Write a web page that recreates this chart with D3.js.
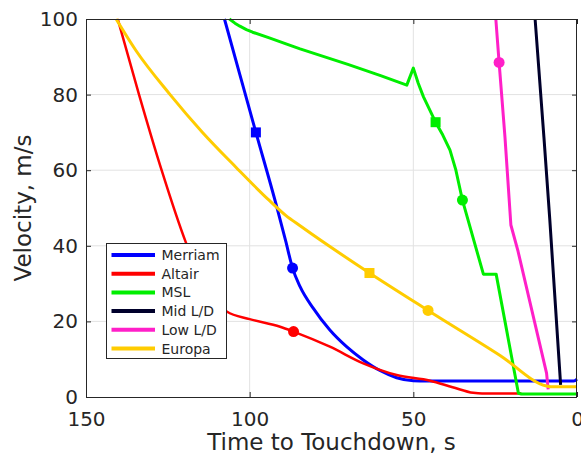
<html>
<head>
    <style>
        body { margin: 0; background-color: white; }
        svg { display: block; font-family: "DejaVu Sans", sans-serif; }
    </style>
</head>
<body>
    <div id="chart"></div>
    <script src="https://cdn.jsdelivr.net/npm/d3@7"></script>
    <script>
        // series, [time to touchdown s, velocity m/s]
        const merriam = [[107.7, 100], [103, 85.3], [98.1, 70], [92, 51.2], [89, 41.3], [86.9, 34.1], [84.6, 29.2], [80.6, 23.5], [75.5, 17.7], [70.4, 13.3], [65.3, 9.8], [60.2, 7.0], [55.1, 5.1], [50, 4.3], [46, 4.2], [1, 4.2], [0, 4.7]];
        const altair = [[140.3, 100], [133.8, 80], [126.9, 60], [119.5, 40.9], [116, 33.5], [112.5, 27.5], [109, 24], [107, 22.6], [100, 20.6], [90.7, 18.6], [86.6, 17.3], [75.5, 13.3], [65.3, 8.9], [55.1, 5.8], [44.9, 4.3], [38, 2.6], [31.7, 1.1], [29, 0.9], [17, 0.9]];
        const msl = [[106.2, 100], [104.5, 98.9], [103, 98.1], [101, 97.2], [99.1, 96.5], [94, 95], [88.9, 93.4], [84.6, 92.1], [70, 88], [60, 85], [52, 82.5], [50, 87], [48.5, 83], [46.9, 79.4], [43.2, 72.7], [41, 69.3], [38.8, 65.3], [37, 60], [35.0, 52.1], [28.6, 32.5], [24.7, 32.5], [17.9, 1.0], [17, 0.8], [0, 0.8]];
        const midLD = [[12.8, 100], [10.1, 68.7], [8.3, 46.8], [5.0, 3.2]];
        const lowLD = [[24.8, 100], [23.8, 88.5], [22, 68.7], [20.2, 45.5], [18, 38.5], [9.3, 6.3], [8.8, 2.0]];
        const europa = [[140.8, 100], [134.7, 91.6], [124.5, 80.2], [114.4, 70.0], [104.2, 60.8], [94, 52.0], [88.9, 48.0], [84.6, 45.3], [63.4, 32.8], [45.5, 22.9], [23.5, 11.0], [9.3, 2.9], [8, 2.7], [0, 2.7]];

        const names = ["Merriam", "Altair", "MSL", "Mid L/D", "Low L/D", "Europa"];
        const colors = ["#0000ff", "#ff0000", "#00ee00", "#00002b", "#ff1fc8", "#ffcc00"];
        const seriesList = [merriam, altair, msl, midLD, lowLD, europa];
        const smooth = [true, true, false, false, false, true];

        // markers: [series index, t, v]
        const squares = [[0, 98.1, 70], [2, 43.2, 72.7], [5, 63.4, 32.8]];
        const circles = [[0, 86.9, 34.1], [1, 86.6, 17.3], [2, 35.0, 52.1], [4, 23.8, 88.5], [5, 45.5, 22.9]];

        const xTicks = [150, 100, 50, 0];
        const yTicks = [0, 20, 40, 60, 80, 100];

        const width = 581, height = 455;
        const margin = { top: 19, right: 4, bottom: 58, left: 86 };

        const svg = d3.select("#chart").append("svg")
            .attr("width", width)
            .attr("height", height);

        const x = d3.scaleLinear().domain([150, 0]).range([margin.left, width - margin.right]);
        const y = d3.scaleLinear().domain([0, 100]).range([height - margin.bottom, margin.top]);

        // grid
        svg.append("g").selectAll("line")
            .data(xTicks.slice(1, -1))
            .enter().append("line")
            .attr("x1", d => x(d)).attr("x2", d => x(d))
            .attr("y1", y(0)).attr("y2", y(100))
            .attr("stroke", "#e2e2e2");
        svg.append("g").selectAll("line")
            .data(yTicks.slice(1, -1))
            .enter().append("line")
            .attr("x1", x(150)).attr("x2", x(0))
            .attr("y1", d => y(d)).attr("y2", d => y(d))
            .attr("stroke", "#e2e2e2");

        const plot = svg.append("g");

        seriesList.forEach((s, i) => {
            const line = d3.line()
                .x(d => x(d[0])).y(d => y(d[1]))
                .curve(smooth[i] ? d3.curveMonotoneX : d3.curveLinear);
            plot.append("path")
                .datum(s)
                .attr("fill", "none")
                .attr("stroke", colors[i])
                .attr("stroke-width", i === 1 ? 2.5 : 3)
                .attr("stroke-linejoin", "round")
                .attr("d", line);
            plot.selectAll(".sq" + i)
                .data(squares.filter(m => m[0] === i))
                .enter().append("rect")
                .attr("x", d => x(d[1]) - 5).attr("y", d => y(d[2]) - 5)
                .attr("width", 10).attr("height", 10)
                .attr("fill", colors[i]);
            plot.selectAll(".ci" + i)
                .data(circles.filter(m => m[0] === i))
                .enter().append("circle")
                .attr("cx", d => x(d[1])).attr("cy", d => y(d[2]))
                .attr("r", 5.5)
                .attr("fill", colors[i]);
        });

        // axes
        const axisColor = "#262626";
        const styleAxis = g => {
            g.select(".domain").remove();
            g.selectAll("line").attr("stroke", axisColor);
            g.selectAll("text").attr("fill", axisColor).style("font-size", "20px")
                .style("font-family", "DejaVu Sans");
        };
        svg.append("g")
            .attr("transform", `translate(0,${y(0)})`)
            .call(d3.axisBottom(x).tickValues(xTicks).tickSize(-5).tickPadding(15).tickFormat(d3.format("d")))
            .call(styleAxis);
        svg.append("g")
            .attr("transform", `translate(${x(150)},0)`)
            .call(d3.axisLeft(y).tickValues(yTicks).tickSize(-5).tickPadding(8).tickFormat(d3.format("d")))
            .call(styleAxis);
        svg.append("g")
            .attr("transform", `translate(0,${y(100)})`)
            .call(d3.axisTop(x).tickValues(xTicks).tickSize(-5).tickFormat(""))
            .call(styleAxis);
        svg.append("g")
            .attr("transform", `translate(${x(0)},0)`)
            .call(d3.axisRight(y).tickValues(yTicks).tickSize(-5).tickFormat(""))
            .call(styleAxis);

        svg.append("rect")
            .attr("x", x(150) + 0.5).attr("y", y(100) + 0.5)
            .attr("width", x(0) - x(150) - 1).attr("height", y(0) - y(100))
            .attr("fill", "none")
            .attr("stroke", axisColor);

        // labels
        svg.append("text")
            .attr("x", (x(150) + x(0)) / 2)
            .attr("y", 450)
            .attr("text-anchor", "middle")
            .attr("fill", axisColor)
            .style("font-size", "23px")
            .text("Time to Touchdown, s");
        svg.append("text")
            .attr("transform", `translate(31,${(y(0) + y(100)) / 2}) rotate(-90)`)
            .attr("text-anchor", "middle")
            .attr("fill", axisColor)
            .style("font-size", "23px")
            .text("Velocity, m/s");

        // legend
        const legend = svg.append("g").attr("transform", "translate(106.5,243.5)");
        legend.append("rect")
            .attr("width", 120).attr("height", 115)
            .attr("fill", "white")
            .attr("stroke", axisColor);
        names.forEach((n, i) => {
            const row = legend.append("g").attr("transform", `translate(0,${11.5 + i * 18.7})`);
            row.append("line")
                .attr("x1", 5).attr("x2", 48.5)
                .attr("stroke", colors[i])
                .attr("stroke-width", 4);
            row.append("text")
                .attr("x", 55)
                .attr("dy", "0.36em")
                .attr("fill", axisColor)
                .style("font-size", "14px")
                .text(n);
        });
    </script>
</body>
</html>
